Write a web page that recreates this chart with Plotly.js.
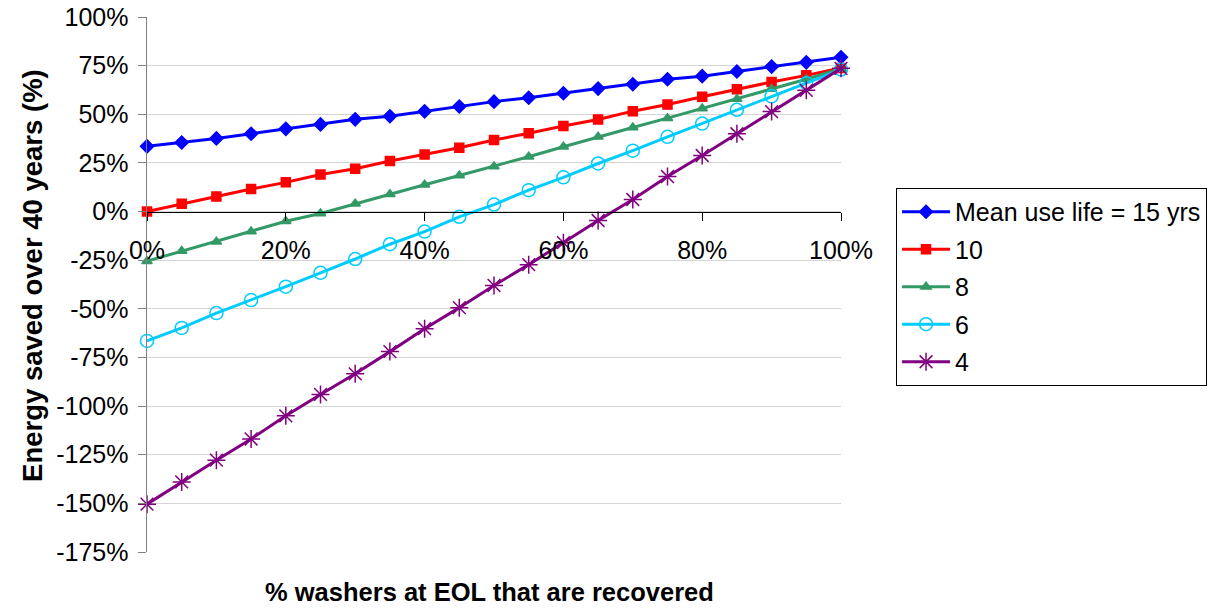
<!DOCTYPE html>
<html>
<head>
<meta charset="utf-8">
<script src="https://cdn.plot.ly/plotly-3.0.1.min.js"></script>
<style>html,body{margin:0;padding:0;background:#fff}#chart{width:1213px;height:611px}</style>
</head>
<body>
<div id="chart"></div>
<script>
const recovered = [0,5,10,15,20,25,30,35,40,45,50,55,60,65,70,75,80,85,90,95,100];
const life15 = [33.5,35.5,37.6,40,42.5,44.8,47.4,49,51.5,54,56.5,58.5,60.8,63.2,65.4,68,69.6,72,74.5,76.7,79.3];
const life10 = [0,4,7.7,11.6,15,19,22,26,29.3,32.8,36.8,40.2,44,47.3,51.6,55,59,62.8,66.6,70,73.8];
const life8 = [-25.5,-20.3,-15.5,-10.3,-5,-1,4,8.9,13.8,18.5,23.2,28.2,33.3,38.4,43.2,48,53,57.8,63,68,73.4];
const life6 = [-66.5,-59.8,-52.2,-45.5,-38.6,-31.5,-24.4,-16.8,-10.3,-2.7,3.6,11,17.6,24.7,31.3,38.4,45.2,52.3,59.2,66,73];
const life4 = [-150.4,-139,-127.8,-116.9,-105,-94,-83.4,-72,-60.2,-49.4,-38,-27.3,-16,-4.6,6.2,18,28.8,40,51.4,62.3,73.6];
const seriesNames = ['Mean use life = 15 yrs','10','8','6','4'];
const xTickVals = [0,20,40,60,80,100];
const yTickVals = [-175,-150,-125,-100,-75,-50,-25,0,25,50,75,100];
const xTitle = '% washers at EOL that are recovered';
const yTitle = 'Energy saved over 40 years (%)';

const FONT = 'Liberation Sans, Arial, sans-serif';
function tr(y, name, color, symbol, size) {
  return {
    x: recovered, y: y, name: name, type: 'scatter', mode: 'lines+markers',
    legendgroup: name,
    line: {color: color, width: 3},
    marker: {symbol: symbol, size: size, color: color, line: {color: color, width: 1.5}},
    cliponaxis: false
  };
}
const data = [
  tr(life15, seriesNames[0], '#0000FF', 'diamond', 10),
  tr(life10, seriesNames[1], '#FF0000', 'square', 9),
  tr(life8, seriesNames[2], '#339966', 'triangle-up', 9),
  tr(life6, seriesNames[3], '#00CCFF', 'circle-open', 13),
  tr(life4, seriesNames[4], '#800080', 'asterisk-open', 15)
];

const layout = {
  width: 1213, height: 611,
  margin: {l: 147, r: 372, t: 17, b: 59, autoexpand: false},
  paper_bgcolor: '#fff', plot_bgcolor: '#fff',
  font: {family: FONT, size: 25, color: '#000'},
  showlegend: true,
  legend: {
    x: 1.0793, xanchor: 'left', y: 0.6804, yanchor: 'top',
    bordercolor: '#000', borderwidth: 1, bgcolor: '#fff',
    font: {family: FONT, size: 25, color: '#000'},
    traceorder: 'grouped', tracegroupgap: 2, itemwidth: 48
  },
  xaxis: {
    range: [0, 100], tickvals: xTickVals, ticktext: xTickVals.map(v => v + '%'),
    anchor: 'free', position: 175/275,
    showline: true, linecolor: '#000', linewidth: 1.5,
    ticks: 'outside', ticklen: 8, tickcolor: '#000', tickwidth: 1,
    ticklabelstandoff: 8,
    showgrid: false, zeroline: false,
    tickfont: {family: FONT, size: 25, color: '#000'}
  },
  yaxis: {
    range: [-175, 100], tickvals: yTickVals, ticktext: yTickVals.map(v => v + '%'),
    showline: true, linecolor: '#808080', linewidth: 1.5,
    ticks: 'outside', ticklen: 8, tickcolor: '#808080', tickwidth: 1,
    ticklabelstandoff: 4,
    showgrid: true, gridcolor: '#d4d4d4', gridwidth: 1, zeroline: false,
    tickfont: {family: FONT, size: 25, color: '#000'}
  },
  annotations: [
    {text: '<b>' + xTitle + '</b>', xref: 'paper', yref: 'paper', x: 0.4928, y: -0.0748,
     xanchor: 'center', yanchor: 'middle', showarrow: false,
     font: {family: FONT, size: 25.5, color: '#000'}},
    {text: '<b>' + yTitle + '</b>', xref: 'paper', yref: 'paper', x: -0.1643, y: 0.5178,
     xanchor: 'center', yanchor: 'middle', showarrow: false, textangle: -90,
     font: {family: FONT, size: 27.5, color: '#000'}}
  ]
};
Plotly.newPlot('chart', data, layout, {displayModeBar: false, staticPlot: true});
</script>
</body>
</html>
